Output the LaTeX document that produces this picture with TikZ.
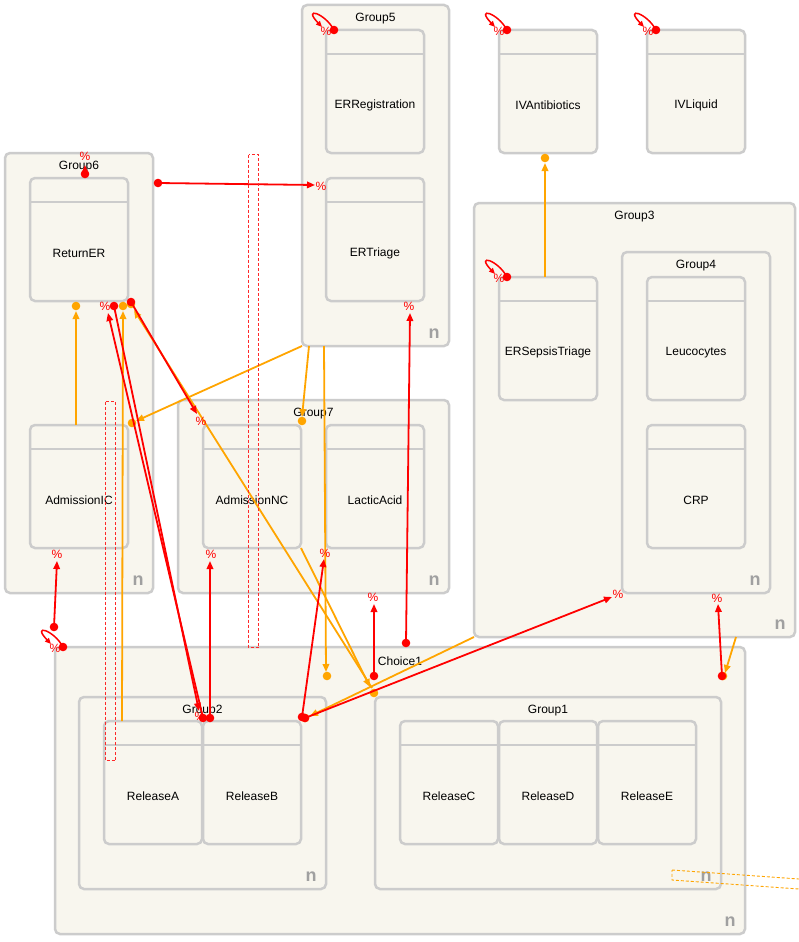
\documentclass[tikz,border=0pt]{standalone}
\usepackage{fontspec}
\setmainfont{Liberation Sans}
\usetikzlibrary{arrows.meta,calc}
\definecolor{boxfill}{RGB}{248,246,238}
\definecolor{boxline}{RGB}{204,204,204}
\definecolor{ngray}{RGB}{160,160,160}
\definecolor{eorange}{RGB}{255,165,0}
\definecolor{dashred}{RGB}{255,40,40}
\newcommand\umlgroup[6]{%
  \node[box, minimum width=#4pt, minimum height=#5pt] (#1) at (#2,#3) {};
  \node[lbl] (#1lbl) at ($(#1.north)+(0,14)$) {#6};
  \node[nlbl] (#1n) at ($(#1.south east)+(-15,-12)$) {n};}
\newcommand\umltask[4]{%
  \node[taskbox] (#1) at (#2,#3) {};
  \draw[hdr] ($(#1.north west)+(0,24)$) -- ($(#1.north east)+(0,24)$);
  \node[lbl] (#1lbl) at ($(#1.center)+(0,14)$) {#4};}
\newcommand\redgeto[4]{%
  \coordinate (#1s) at (#2); \coordinate (#1t) at (#3);
  \draw[redge] (#1s) -- (#1t);
  \fill[red] (#1s) circle (4.3pt);
  \node[pct] (#1p) at (#4) {\%};}
\newcommand\oedgeto[4]{%
  \coordinate (#1s) at (#2); \coordinate (#1t) at (#3); \coordinate (#1d) at (#4);
  \draw[oedge] (#1s) -- (#1t);
  \fill[eorange] (#1d) circle (4.3pt);}
\newcommand\selfloop[2]{%
  \coordinate (#1) at (#2);
  \node[pct] (#1p) at ($(#1)+(-8,1)$) {\%};
  \draw[redge, line width=1.5pt, -{Triangle[length=6pt,width=5pt]}] (#1) .. controls ($(#1)+(-9,-17)$) and ($(#1)+(-32,-24)$) .. ($(#1)+(-12,-3)$);
  \fill[red] (#1) circle (4.3pt);}
\begin{document}
\begin{tikzpicture}[x=1pt,y=-1pt,
  box/.style={draw=boxline, line width=2.5pt, fill=boxfill, rounded corners=5pt, inner sep=0pt, outer sep=0pt, anchor=north west},
  taskbox/.style={box, minimum width=98pt, minimum height=123pt},
  hdr/.style={draw=boxline, line width=2.5pt},
  lbl/.style={font=\fontsize{12}{14}\selectfont, text=black, inner sep=0pt},
  nlbl/.style={font=\fontsize{18}{20}\selectfont\bfseries, text=ngray, inner sep=0pt},
  pct/.style={font=\fontsize{12}{14}\selectfont, text=red, inner sep=0pt},
  redge/.style={draw=red, line width=1.8pt, -{Triangle[length=8pt,width=6.5pt]}},
  oedge/.style={draw=eorange, line width=1.8pt, -{Triangle[length=8pt,width=6.5pt]}},
  rdash/.style={draw=dashred, line width=1pt, dash pattern=on 3pt off 2pt},
  odash/.style={draw=eorange, line width=0.9pt, dash pattern=on 3pt off 2pt}]
\useasboundingbox (0,0) rectangle (799,942);
\fill[white] (0,0) rectangle (799,942);
% boxes
\umlgroup{Group5}{302}{5}{147}{341}{Group5}
\umltask{ERRegistration}{326}{30}{ERRegistration}
\umltask{ERTriage}{326}{178}{ERTriage}
\umltask{IVAntibiotics}{499}{30}{IVAntibiotics}
\umltask{IVLiquid}{647}{30}{IVLiquid}
\umlgroup{Group6}{5}{153}{148}{440}{Group6}
\umltask{ReturnER}{30}{178}{ReturnER}
\umltask{AdmissionIC}{30}{425}{AdmissionIC}
\umlgroup{Group7}{178}{400}{271}{193}{Group7}
\umltask{AdmissionNC}{203}{425}{AdmissionNC}
\umltask{LacticAcid}{326}{425}{LacticAcid}
\umlgroup{Group3}{474}{203}{321}{434}{Group3}
\umltask{ERSepsisTriage}{499}{277}{ERSepsisTriage}
\umlgroup{Group4}{622}{252}{148}{341}{Group4}
\umltask{Leucocytes}{647}{277}{Leucocytes}
\umltask{CRP}{647}{425}{CRP}
\umlgroup{Choice1}{55}{647}{690}{287}{Choice1}
\umlgroup{Group2}{79}{697}{247}{192}{Group2}
\umltask{ReleaseA}{104}{721}{ReleaseA}
\umltask{ReleaseB}{203}{721}{ReleaseB}
\umlgroup{Group1}{375}{697}{346}{192}{Group1}
\umltask{ReleaseC}{400}{721}{ReleaseC}
\umltask{ReleaseD}{499}{721}{ReleaseD}
\umltask{ReleaseE}{598}{721}{ReleaseE}
% orange connectors
\oedgeto{oa}{545,277}{545,163}{545,158}
\oedgeto{ob}{76,425}{76,311}{76,306}
\oedgeto{oc}{122,721}{123,311}{123,306}
\oedgeto{od}{372,688}{134,310}{131,304}
\oedgeto{oe}{301,548}{370,687}{374,693}
\oedgeto{of}{302,346}{136,421}{132,423}
\oedgeto{og}{309,346}{302,417}{302,421}
\oedgeto{oh}{324,346}{326,672}{327,676}
\oedgeto{oi}{474,637}{310,716}{305,718}
\oedgeto{oj}{736,637}{725,673}{723,676}
% red connectors
\redgeto{ra}{85,174}{85,165}{85,156}
\redgeto{rb}{158,183}{315,185}{321,186}
\redgeto{rc}{131,302}{197,414}{201,421}
\redgeto{rd}{114,306}{199,711}{200,716}
\redgeto{re}{203,718}{108,313}{105,306}
\redgeto{rf}{210,718}{210,561}{211,554}
\redgeto{rg}{54,627}{57,561}{57,554}
\redgeto{rh}{302,717}{324,559}{325,553}
\redgeto{ri}{374,676}{374,604}{373,597}
\redgeto{rj}{406,643}{410,313}{409,306}
\redgeto{rk}{305,718}{612,597}{618,594}
\redgeto{rl}{722,676}{718,604}{717,598}
% self loops
\selfloop{la}{334,30}
\selfloop{lb}{507,30}
\selfloop{lc}{656,30}
\selfloop{ld}{507,277}
\selfloop{le}{63,647}
% dashed markers
\draw[rdash] (248.5,154.5) rectangle (258.5,647.5);
\draw[rdash] (105.5,401.5) rectangle (115.5,760.5);
\draw[odash] (672,870) -- (830,881.2) -- (830,891.2) -- (672,880) -- cycle;
\end{tikzpicture}
\end{document}
